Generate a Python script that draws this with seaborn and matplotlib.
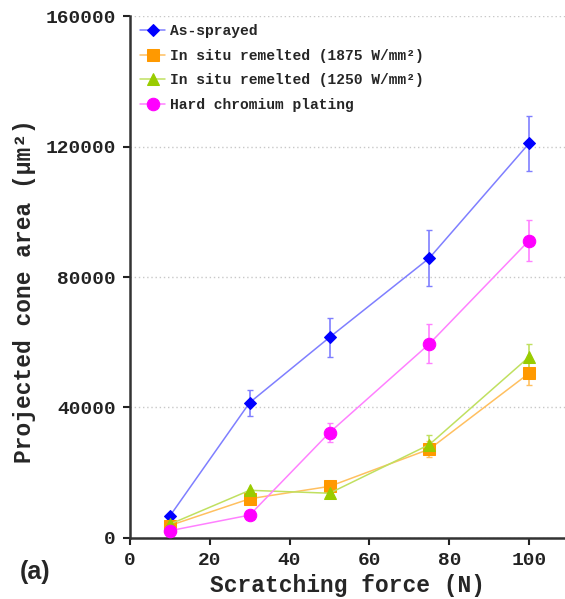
import numpy as np
import pandas as pd
import matplotlib
matplotlib.use('Agg')
import matplotlib.pyplot as plt
import seaborn as sns

# data
force = [10, 30, 50, 75, 100]
labels = ['As-sprayed', 'In situ remelted (1875 W/mm²)',
          'In situ remelted (1250 W/mm²)', 'Hard chromium plating']
as_sprayed = [6700, 41500, 61500, 85800, 121000]
as_sprayed_err = [0, 4000, 6000, 8700, 8500]
remelt_1875 = [3800, 12000, 15800, 27200, 50500]
remelt_1875_err = [0, 0, 0, 2500, 3500]
remelt_1250 = [4200, 14600, 13700, 28600, 55500]
remelt_1250_err = [0, 0, 0, 3000, 4000]
hard_chrome = [2200, 7000, 32300, 59500, 91200]
hard_chrome_err = [0, 0, 3000, 6000, 6400]

values = [as_sprayed, remelt_1875, remelt_1250, hard_chrome]
errors = [as_sprayed_err, remelt_1875_err, remelt_1250_err, hard_chrome_err]
colors = ['#0000ff', '#ff9900', '#99cc00', '#ff00ff']
line_colors = ['#7f7fff', '#ffc060', '#c0e060', '#ff80ff']
markers = ['D', 's', '^', 'o']
msizes = [6, 8, 8, 9]

sns.set_style('white')
plt.rcParams['font.family'] = ['Liberation Mono', 'DejaVu Sans Mono']
plt.rcParams['font.weight'] = 'bold'

fig = plt.figure(figsize=(5.65, 5.99), dpi=100)
ax = fig.add_axes([0.23, 0.102, 0.77, 0.871])

for lab, v, e, c, lc, m, ms in zip(labels, values, errors, colors, line_colors, markers, msizes):
    d = pd.DataFrame({'force': force, 'area': v})
    ax.errorbar(force, v, yerr=e, fmt='none', ecolor=lc, elinewidth=1.2,
                capsize=2.5, capthick=1, zorder=2)
    sns.lineplot(data=d, x='force', y='area', ax=ax, color=lc, lw=1.1,
                 marker=m, markersize=ms, markerfacecolor=c, markeredgecolor=c,
                 label=lab, zorder=3)

ax.set_xlim(0, 109)
ax.set_ylim(0, 160000)
ax.set_xticks([0, 20, 40, 60, 80, 100])
ax.set_yticks([0, 40000, 80000, 120000, 160000])
ax.yaxis.grid(True, linestyle=(0, (1, 2)), color='#c8c8c8', lw=1)
ax.set_axisbelow(True)
for s in ['top', 'right']:
    ax.spines[s].set_visible(False)
for s in ['left', 'bottom']:
    ax.spines[s].set_linewidth(1.8)
    ax.spines[s].set_color('#333333')
ax.tick_params(axis='both', direction='out', length=5, width=1.5,
               labelsize=14, colors='#222222', left=True, bottom=True)
ax.tick_params(axis='y', pad=5)
ax.tick_params(axis='x', pad=5)
ax.set_xlabel('Scratching force (N)', fontsize=16.5, fontweight='bold', labelpad=4)
ax.set_ylabel('Projected cone area (μm²)', fontsize=16.5, fontweight='bold')
ax.yaxis.set_label_coords(-0.215, 0.473)

leg = ax.legend(loc='upper left', frameon=False, fontsize=10.5,
                bbox_to_anchor=(0.0, 1.004), handlelength=1.7, handletextpad=0.35,
                labelspacing=0.72, borderaxespad=0.3)
for t in leg.get_texts():
    t.set_fontweight('bold')

fig.text(0.035, 0.033, '(a)', fontsize=18, fontweight='bold',
         family='Liberation Sans')

fig.savefig('out.png', dpi=100)
